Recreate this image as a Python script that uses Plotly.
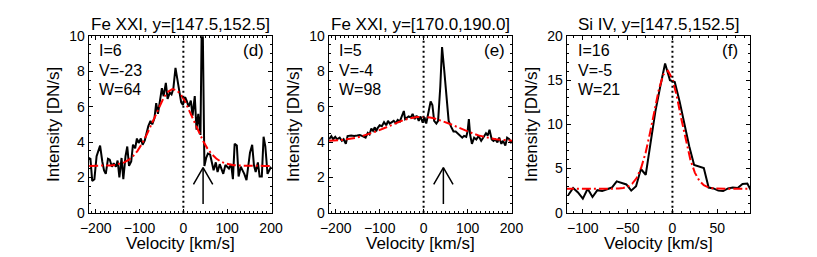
import plotly.graph_objects as go

# ---------------- data ----------------
titles = ["Fe XXI, y=[147.5,152.5]", "Fe XXI, y=[170.0,190.0]", "Si IV, y=[147.5,152.5]"]
panel_tags = ["(d)", "(e)", "(f)"]
fit_I = [6, 5, 16]
fit_V = [-23, -4, -5]
fit_W = [64, 98, 21]

vel_d = [-216, -212, -208, -203, -198, -194, -190, -185, -181, -177,
         -172, -168, -163, -159, -154, -150, -146, -141, -137, -132,
         -128, -124, -119, -115, -110, -106, -102, -97, -93, -88,
         -84, -80, -75, -71, -66, -62, -58, -53, -49, -45,
         -40, -36, -31, -27, -23, -18, -14, -9, -5, -1,
         4, 8, 12, 17, 21, 26, 30, 34, 39, 43,
         48, 52, 56, 61, 65, 69, 74, 78, 83, 87,
         91, 96, 100, 104, 109, 113, 117, 122, 126, 131,
         135, 139, 144, 148, 152, 157, 161, 165, 170, 174,
         179, 183, 187, 192, 196, 200]
int_d = [3.10, 3.05, 1.80, 1.90, 3.20, 3.50, 3.80, 2.90, 2.40, 2.20,
         3.05, 3.00, 2.60, 2.80, 2.60, 2.95, 2.00, 3.10, 1.90, 3.20,
         3.75, 2.65, 2.90, 3.85, 3.65, 4.20, 3.95, 4.20, 3.85, 4.10,
         4.50, 4.90, 5.20, 5.00, 5.35, 6.20, 5.60, 6.40, 7.05, 6.60,
         7.35, 6.45, 6.80, 6.70, 7.00, 8.20, 7.60, 6.60, 6.25, 6.10,
         6.55, 6.30, 6.00, 6.35, 5.50, 6.60, 4.70, 5.60, 4.40, 13.00,
         2.65, 3.10, 3.35, 3.30, 2.75, 2.40, 2.85, 2.30, 2.75, 2.50,
         2.20, 2.70, 2.60, 2.50, 2.75, 1.90, 3.90, 3.80, 2.05, 2.60,
         2.40, 2.20, 1.85, 2.50, 3.40, 3.85, 2.70, 2.30, 2.85, 2.05,
         2.05, 4.30, 3.75, 2.20, 2.40, 2.60]

vel_e = [-215, -210, -206, -201, -197, -191, -186, -182, -177, -173,
         -165, -158, -151, -145, -139, -132, -127, -123, -119, -115,
         -111, -108, -105, -100, -95, -90, -85, -81, -77, -72,
         -68, -63, -59, -54, -50, -45, -42, -38, -34, -29,
         -25, -20, -16, -11, -7, -2, 2, 6, 11, 16,
         20, 24, 29, 33, 38, 42, 47, 52, 57, 63,
         68, 73, 78, 83, 88, 92, 97, 100, 103, 106,
         110, 115, 120, 125, 131, 137, 142, 146, 150, 155,
         159, 163, 168, 172, 177, 181, 186, 190, 195, 199,
         203]
int_e = [4.16, 4.34, 4.16, 4.30, 4.16, 4.25, 4.07, 4.16, 3.90, 4.34,
         4.37, 4.34, 4.37, 4.40, 4.34, 4.25, 4.52, 4.43, 4.77, 4.64,
         4.84, 4.60, 4.78, 4.95, 4.90, 5.13, 4.95, 5.20, 5.05, 5.13,
         5.20, 5.07, 5.25, 5.17, 5.40, 5.76, 5.30, 5.40, 5.45, 5.40,
         5.60, 5.30, 5.50, 5.20, 5.45, 5.10, 5.40, 5.05, 5.60, 6.30,
         6.10, 5.20, 5.05, 5.20, 7.15, 9.38, 8.05, 6.45, 5.20, 4.85,
         4.60, 4.60, 4.50, 4.35, 4.25, 4.35, 4.30, 4.60, 5.30, 4.40,
         3.90, 4.25, 4.15, 4.35, 4.07, 4.30, 4.50, 4.37, 4.70, 4.15,
         4.07, 4.15, 3.98, 4.25, 3.90, 4.07, 3.80, 4.25, 4.16, 3.98,
         4.07]

vel_f = [-116.2, -110.8, -105.4, -100.0, -94.6, -89.2, -83.8, -78.4, -73.0, -67.6,
         -62.2, -56.8, -51.4, -46.0, -40.6, -35.2, -29.8, -24.4, -19.0, -13.6,
         -8.2, -2.8, 2.6, 8.0, 13.4, 18.8, 24.2, 29.6, 35.0, 40.4,
         45.8, 51.2, 56.6, 62.0, 67.4, 72.8, 78.2, 83.6, 89.0]
int_f = [2.00, 2.80, 2.30, 1.60, 2.72, 1.78, 2.55, 2.45, 2.65, 2.85,
         3.55, 3.40, 3.20, 2.50, 3.00, 4.95, 4.30, 7.90, 11.50, 14.30,
         16.90, 15.00, 14.80, 12.60, 9.90, 7.50, 5.40, 5.25, 5.05, 2.85,
         2.75, 2.50, 2.45, 2.75, 2.85, 2.80, 3.25, 3.30, 2.25]

# Gaussian fits
fit_vel_fe = [-215, -205, -195, -185, -175, -165, -155, -145, -135, -125,
              -115, -105, -95, -85, -75, -65, -55, -45, -35, -25,
              -15, -5, 5, 15, 25, 35, 45, 55, 65, 75,
              85, 95, 105, 115, 125, 135, 145, 155, 165, 175,
              185, 195, 205]
fit_d = [2.65, 2.65, 2.65, 2.66, 2.67, 2.68, 2.71, 2.77, 2.85, 2.99,
         3.20, 3.49, 3.88, 4.35, 4.90, 5.48, 6.04, 6.51, 6.85, 7.00,
         6.93, 6.67, 6.24, 5.71, 5.13, 4.56, 4.06, 3.63, 3.31, 3.07,
         2.90, 2.80, 2.73, 2.69, 2.67, 2.66, 2.65, 2.65, 2.65, 2.65,
         2.65, 2.65, 2.65]
fit_e = [4.07, 4.08, 4.10, 4.12, 4.16, 4.19, 4.24, 4.30, 4.37, 4.45,
         4.54, 4.63, 4.74, 4.84, 4.95, 5.06, 5.16, 5.25, 5.32, 5.38,
         5.42, 5.43, 5.42, 5.39, 5.34, 5.26, 5.18, 5.08, 4.98, 4.87,
         4.76, 4.65, 4.56, 4.46, 4.38, 4.31, 4.25, 4.20, 4.16, 4.13,
         4.10, 4.08, 4.07]
fit_vel_f = [-120, -115, -110, -105, -100, -95, -90, -85, -80, -75,
             -70, -65, -60, -55, -50, -45, -40, -35, -30, -25,
             -20, -15, -10, -5, 0, 5, 10, 15, 20, 25,
             30, 35, 40, 45, 50, 55, 60, 65, 70, 75,
             80, 85, 90]
fit_f = [2.70, 2.70, 2.70, 2.70, 2.70, 2.70, 2.70, 2.70, 2.70, 2.70,
         2.70, 2.71, 2.73, 2.79, 2.95, 3.28, 3.93, 5.06, 6.77, 9.05,
         11.64, 14.04, 15.66, 16.07, 15.14, 13.14, 10.59, 8.09, 6.01, 4.54,
         3.62, 3.12, 2.87, 2.76, 2.72, 2.70, 2.70, 2.70, 2.70, 2.70,
         2.70, 2.70, 2.70]

x_ranges = [[-216, 202], [-216, 202], [-118, 87]]
y_ranges = [[0, 10], [0, 10], [0, 20]]
x_dticks = [100, 100, 50]
x_minor = [10, 10, 10]
y_dticks = [2, 2, 5]
y_minor = [0.5, 0.5, 1]

# arrow marking the blend (panels d and e)
arrow_vel = 45
arrow_base = 0.5
arrow_tip = 2.55
arrow_wing_dv = 22
arrow_wing_dy = 0.95

zero_vel = 0

# ---------------- figure ----------------
W, H = 817, 257
x_dom_px = [(81.7, 269.5), (327.7, 516.0), (571.7, 760.0)]
y_dom_px = (30.0, 218.3)
FONT = "Liberation Sans, Arial, Helvetica, sans-serif"

fig = go.Figure()
panels = [(vel_d, int_d, fit_vel_fe, fit_d), (vel_e, int_e, fit_vel_fe, fit_e),
          (vel_f, int_f, fit_vel_f, fit_f)]

ydom = [1 - y_dom_px[1] / H, 1 - y_dom_px[0] / H]
annotations = []
shapes = []
for i, (vx, vy, fx, fy) in enumerate(panels):
    n = "" if i == 0 else str(i + 1)
    xa, ya = "x" + n, "y" + n
    fig.add_trace(go.Scatter(x=vx, y=vy, mode="lines", xaxis=xa, yaxis=ya,
                             line=dict(color="black", width=2), showlegend=False,
                             hoverinfo="skip"))
    fig.add_trace(go.Scatter(x=fx, y=fy, mode="lines", xaxis=xa, yaxis=ya,
                             line=dict(color="#ff0000", width=2, dash="9px,3px,2px,3px"),
                             showlegend=False, hoverinfo="skip"))
    if i < 2:
        fig.add_trace(go.Scatter(x=[arrow_vel, arrow_vel], y=[arrow_base, arrow_tip],
                                 mode="lines", xaxis=xa, yaxis=ya,
                                 line=dict(color="black", width=1.5), showlegend=False,
                                 hoverinfo="skip"))
        fig.add_trace(go.Scatter(x=[arrow_vel - arrow_wing_dv, arrow_vel, arrow_vel + arrow_wing_dv],
                                 y=[arrow_tip - arrow_wing_dy, arrow_tip, arrow_tip - arrow_wing_dy],
                                 mode="lines", xaxis=xa, yaxis=ya,
                                 line=dict(color="black", width=1.5), showlegend=False,
                                 hoverinfo="skip"))
    shapes.append(dict(type="line", xref=xa, yref=ya + " domain", x0=zero_vel, x1=zero_vel,
                       y0=0, y1=1, line=dict(color="black", width=2, dash="2px,3px")))

    x0p, x1p = x_dom_px[i]
    common = dict(showline=True, linecolor="black", linewidth=1, mirror="allticks",
                  ticks="inside", ticklen=4, tickwidth=1, tickcolor="black",
                  showgrid=False, zeroline=False,
                  tickfont=dict(family=FONT, size=14, color="black"))
    fig.update_layout(**{
        "xaxis" + n: dict(domain=[x0p / W, x1p / W], range=x_ranges[i], dtick=x_dticks[i],
                          tick0=0, anchor=ya, ticklabelstandoff=2,
                          minor=dict(ticks="inside", ticklen=2, tickcolor="black", dtick=x_minor[i]),
                          **common),
        "yaxis" + n: dict(domain=ydom, range=y_ranges[i], dtick=y_dticks[i], tick0=0,
                          anchor=xa,
                          minor=dict(ticks="inside", ticklen=2, tickcolor="black", dtick=y_minor[i]),
                          **common),
    })

    xc = (x0p + x1p) / 2 / W
    annotations.append(dict(text=titles[i], x=xc, y=1 - 18 / H, xref="paper", yref="paper",
                            xanchor="center", yanchor="middle", showarrow=False,
                            font=dict(family=FONT, size=17, color="black")))
    annotations.append(dict(text="Velocity [km/s]", x=xc, y=1 - 251 / H, xref="paper", yref="paper",
                            xanchor="center", yanchor="middle", showarrow=False,
                            font=dict(family=FONT, size=17, color="black")))
    annotations.append(dict(text="Intensity [DN/s]", x=(x0p - 36) / W,
                            y=(ydom[0] + ydom[1]) / 2, xref="paper", yref="paper",
                            xanchor="center", yanchor="middle", textangle=-90, showarrow=False,
                            font=dict(family=FONT, size=17, color="black")))
    labels = ["I=%d" % fit_I[i], "V=%d" % fit_V[i], "W=%d" % fit_W[i]]
    for k, (lab, yy) in enumerate(zip(labels, [0.920, 0.808, 0.696])):
        annotations.append(dict(text=lab, x=0.048, y=yy, xref=xa + " domain", yref=ya + " domain",
                                xanchor="left", yanchor="middle", showarrow=False,
                                font=dict(family=FONT, size=16, color="black")))
    annotations.append(dict(text=panel_tags[i], x=0.833, y=0.920, xref=xa + " domain",
                            yref=ya + " domain", xanchor="left", yanchor="middle", showarrow=False,
                            font=dict(family=FONT, size=17, color="black")))

fig.update_layout(width=W, height=H, margin=dict(l=0, r=0, t=0, b=0),
                  paper_bgcolor="white", plot_bgcolor="white",
                  annotations=annotations, shapes=shapes, showlegend=False)

fig.write_html("out.html", config={"displayModeBar": False},
               post_script="document.body.style.margin='0';document.body.style.overflow='hidden';")
